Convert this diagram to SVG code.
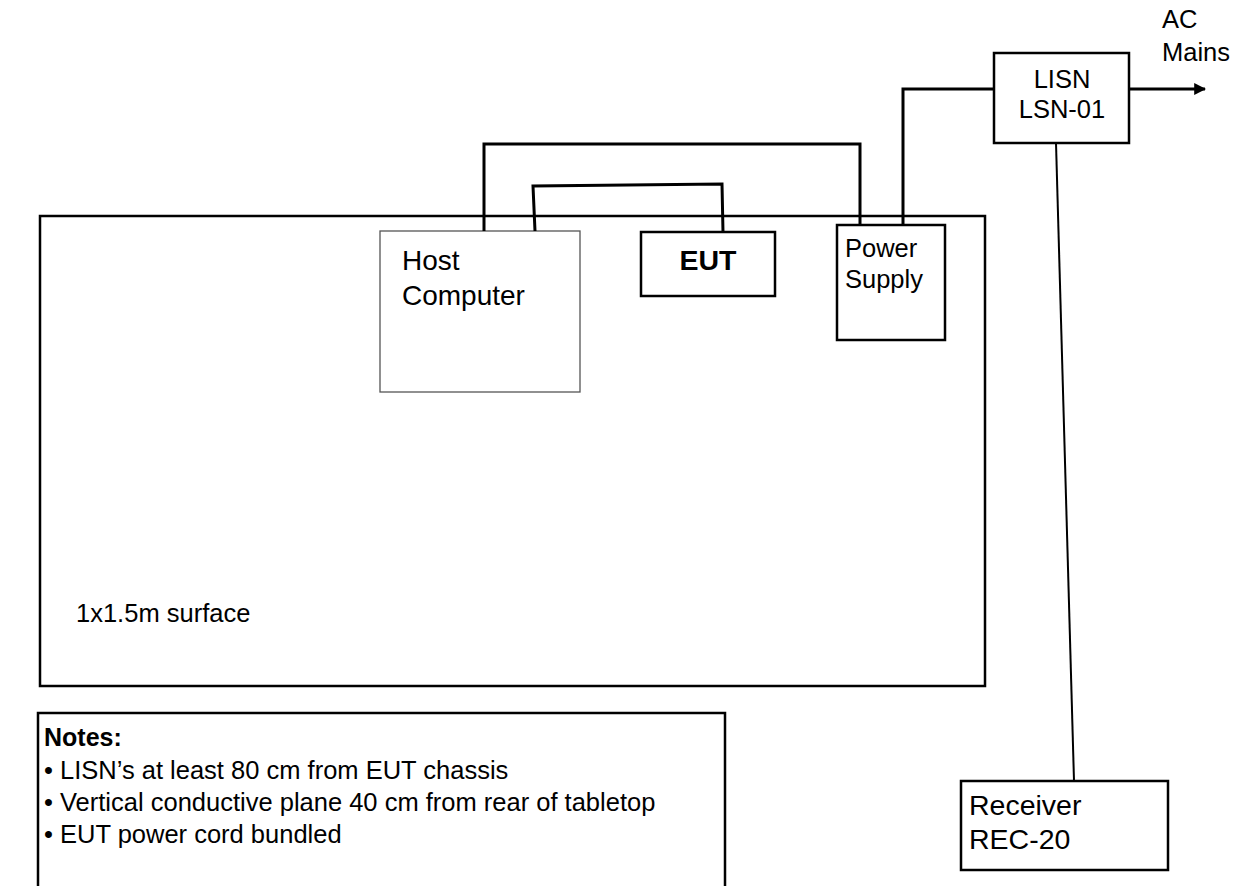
<svg xmlns="http://www.w3.org/2000/svg" width="1246" height="886" viewBox="0 0 1246 886">
<defs>
<style>
.box{fill:#fff;stroke:#000;stroke-width:2.5}
.thin{fill:#fff;stroke:#555;stroke-width:1.3}
.w{fill:none;stroke:#000;stroke-width:3;stroke-linejoin:miter}
.t{font-family:"Liberation Sans",Arial,sans-serif;fill:#000}
</style>
<marker id="ah" viewBox="0 0 10 10" refX="9" refY="5" markerWidth="4" markerHeight="4" orient="auto" markerUnits="strokeWidth">
<path d="M0,0 L10,5 L0,10 z" fill="#000"/>
</marker>
</defs>
<rect width="1246" height="886" fill="#fff"/>
<g id="table">
<rect class="box" x="40" y="216" width="945" height="470"/>
<text class="t" x="76" y="622" font-size="25.5">1x1.5m surface</text>
</g>
<g id="host">
<rect class="thin" x="380" y="231" width="200" height="161"/>
<text class="t" x="402" y="270" font-size="28">Host</text>
<text class="t" x="402" y="305" font-size="28">Computer</text>
</g>
<g id="eut">
<rect class="box" x="641" y="232" width="134" height="64"/>
<text class="t" x="708" y="270" font-size="28.5" font-weight="bold" text-anchor="middle">EUT</text>
</g>
<g id="psu">
<rect class="box" x="837" y="225" width="108" height="115"/>
<text class="t" x="845" y="257" font-size="25.5">Power</text>
<text class="t" x="845" y="288" font-size="25.5">Supply</text>
</g>
<g id="lisn">
<rect class="box" x="994" y="53" width="135" height="90"/>
<text class="t" x="1062" y="88" font-size="25.5" text-anchor="middle">LISN</text>
<text class="t" x="1062" y="118" font-size="25.5" text-anchor="middle">LSN-01</text>
</g>
<g id="mains">
<text class="t" x="1162" y="28" font-size="25.5">AC</text>
<text class="t" x="1162" y="61" font-size="25.5">Mains</text>
</g>
<g id="receiver">
<rect class="box" x="961" y="781" width="207" height="89"/>
<text class="t" x="969" y="815" font-size="28.5">Receiver</text>
<text class="t" x="969" y="849" font-size="28.5">REC-20</text>
</g>
<g id="notes">
<rect class="box" x="38" y="713" width="687" height="200"/>
<text class="t" x="44" y="746" font-size="25" font-weight="bold">Notes:</text>
<text class="t" x="44" y="779" font-size="25.5">• LISN’s at least 80 cm from EUT chassis</text>
<text class="t" x="44" y="811" font-size="25.5">• Vertical conductive plane 40 cm from rear of tabletop</text>
<text class="t" x="44" y="843" font-size="25.5">• EUT power cord bundled</text>
</g>
<g id="connectors">
<polyline class="w" points="484,231 484,144 860,144 860,225"/>
<polyline class="w" points="535,231 533,186 722,184 723,232"/>
<polyline class="w" points="903,225 903,89 994,89"/>
<line x1="1056" y1="143" x2="1074" y2="781" stroke="#000" stroke-width="2"/>
<line x1="1129" y1="89" x2="1205" y2="89" stroke="#000" stroke-width="3" marker-end="url(#ah)"/>
</g>
</svg>
